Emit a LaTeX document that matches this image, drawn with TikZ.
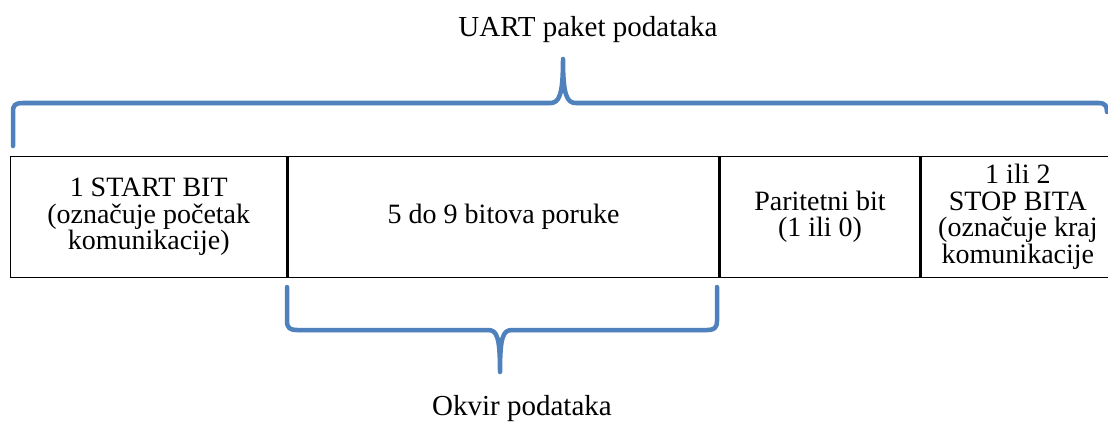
\documentclass[tikz,border=0pt]{standalone}
\usepackage{fontspec}
\setmainfont{Liberation Serif}
\definecolor{braceblue}{RGB}{79,129,189}

\begin{document}
\begin{tikzpicture}[x=1pt, y=1pt,
      every node/.style = {font=\fontsize{28}{26.5}\selectfont, align=center},
      cell/.style = {draw, line width=1.4pt, minimum height=121pt, inner sep=0pt, anchor=south west},
      caption/.style = {anchor=base, font=\fontsize{29}{30}\selectfont},
      brace/.style = {draw=braceblue, line width=4.5pt, line cap=round, line join=round,
            preaction={draw=black!30, opacity=0.35, transform canvas={yshift=-2.5pt}}}
      ]
      \useasboundingbox (0,0) rectangle (1108,424);
      % cells of the packet
      \node[cell, minimum width=276pt] (start) at (10,146) {1 START BIT\\(označuje početak\\komunikacije)};
      \node[cell, minimum width=431pt] (data) at (start.south east) {5 do 9 bitova poruke};
      \node[cell, minimum width=199pt] (parity) at (data.south east) {Paritetni bit\\(1 ili 0)};
      \node[cell, minimum width=194pt] (stop) at (parity.south east) {1 ili 2\\STOP BITA\\(označuje kraj\\komunikacije};
      % braces
      \draw[brace] (13,278) -- (13,312) .. controls (13,319) and (15,321) .. (23,321)
            -- (550,321) .. controls (559,321) and (563,328) .. (563,365)
            .. controls (563,328) and (567,321) .. (576,321)
            -- (1099,321) .. controls (1105,321) and (1107,318) .. (1107,312);
      \draw[brace] (287,137) -- (287,103) .. controls (287,96) and (290,94) .. (297,94)
            -- (488,94) .. controls (497,94) and (500,87) .. (500,52)
            .. controls (500,87) and (503,94) .. (512,94)
            -- (707,94) .. controls (714,94) and (717,96) .. (717,103) -- (717,137);
      \node[caption] (uart) at (588,387) {UART paket podataka};
      \node[caption] (okvir) at (522,9) {Okvir podataka};
\end{tikzpicture}
\end{document}
